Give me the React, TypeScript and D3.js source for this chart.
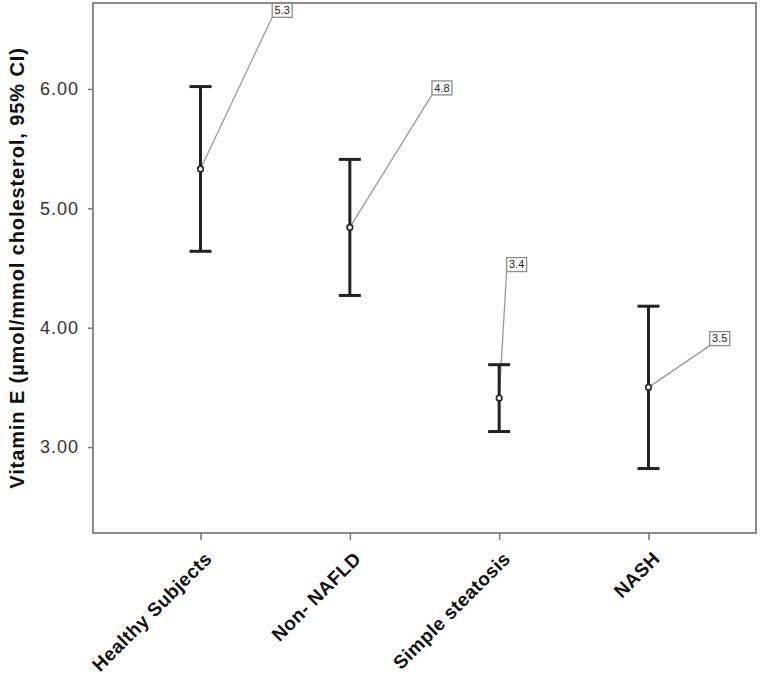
import React, { useEffect, useRef } from 'react';
import * as d3 from 'd3';

const groups = ['Healthy Subjects', 'Non- NAFLD', 'Simple steatosis', 'NASH'];
const means = [5.33, 4.84, 3.41, 3.5];
const lowerCI = [4.64, 4.27, 3.13, 2.82];
const upperCI = [6.02, 5.41, 3.69, 4.18];
const meanLabels = ['5.3', '4.8', '3.4', '3.5'];
// where each label box sits: value on y axis, shift along x in category steps
const labelValues = [6.6, 5.95, 4.47, 3.85];
const labelShift = [0.48, 0.55, 0.05, 0.41];
const yTicks = [3, 4, 5, 6];

const App = () => {
  const svgRef = useRef(null);

  useEffect(() => {
    const width = 760;
    const height = 676;
    const margin = { top: 3, right: 4, bottom: 143, left: 93 };
    const font = 'Liberation Sans, Arial, sans-serif';

    const svg = d3.select(svgRef.current);
    svg.selectAll('*').remove();
    svg.attr('width', width).attr('height', height);

    const x = d3.scalePoint()
      .domain(groups)
      .range([margin.left, width - margin.right])
      .padding(0.72);

    const y = d3.scaleLinear()
      .domain([2.28, 6.72])
      .range([height - margin.bottom, margin.top]);

    const step = x.step();

    // frame
    svg.append('rect')
      .attr('x', margin.left)
      .attr('y', margin.top)
      .attr('width', width - margin.left - margin.right)
      .attr('height', height - margin.top - margin.bottom)
      .attr('fill', 'none')
      .attr('stroke', '#8c8c8c')
      .attr('stroke-width', 2);

    // y axis
    const yAxis = svg.append('g')
      .attr('transform', `translate(${margin.left},0)`)
      .call(d3.axisLeft(y).tickValues(yTicks).tickFormat(d3.format('.2f')).tickSize(5).tickPadding(9));
    yAxis.select('.domain').remove();
    yAxis.selectAll('line').attr('stroke', '#777').attr('stroke-width', 1.5);
    yAxis.selectAll('text')
      .attr('font-family', font)
      .attr('font-size', 18)
      .attr('letter-spacing', 1)
      .attr('fill', '#333');

    // x axis
    const xAxis = svg.append('g')
      .attr('transform', `translate(0,${height - margin.bottom})`)
      .call(d3.axisBottom(x).tickSize(7).tickPadding(6));
    xAxis.select('.domain').remove();
    xAxis.selectAll('line').attr('stroke', '#777').attr('stroke-width', 1.5);
    xAxis.selectAll('text')
      .attr('font-family', font)
      .attr('font-size', 19)
      .attr('letter-spacing', 0.4)
      .attr('font-weight', 'bold')
      .attr('fill', '#111')
      .attr('text-anchor', 'end')
      .attr('dy', '0.35em')
      .attr('transform', 'translate(-2,13) rotate(-45)');

    // y title
    svg.append('text')
      .attr('transform', `translate(24,${(margin.top + height - margin.bottom) / 2}) rotate(-90)`)
      .attr('text-anchor', 'middle')
      .attr('font-family', font)
      .attr('font-size', 20)
      .attr('letter-spacing', 0.9)
      .attr('font-weight', 'bold')
      .attr('fill', '#111')
      .text('Vitamin E (µmol/mmol cholesterol, 95% CI)');

    const rows = groups.map((g, i) => ({
      g, mean: means[i], lo: lowerCI[i], hi: upperCI[i],
      label: meanLabels[i], ly: labelValues[i], lx: labelShift[i]
    }));

    // leader lines
    svg.append('g')
      .selectAll('line')
      .data(rows)
      .join('line')
      .attr('x1', d => x(d.g))
      .attr('y1', d => y(d.mean))
      .attr('x2', d => x(d.g) + d.lx * step)
      .attr('y2', d => y(d.ly))
      .attr('stroke', '#9a9a9a')
      .attr('stroke-width', 1.3);

    const capW = 11;
    const bars = svg.append('g')
      .attr('stroke', '#222')
      .attr('stroke-width', 3);

    bars.selectAll('.stem')
      .data(rows)
      .join('line')
      .attr('class', 'stem')
      .attr('x1', d => x(d.g))
      .attr('x2', d => x(d.g))
      .attr('y1', d => y(d.lo))
      .attr('y2', d => y(d.hi));

    bars.selectAll('.cap-hi')
      .data(rows)
      .join('line')
      .attr('class', 'cap-hi')
      .attr('x1', d => x(d.g) - capW)
      .attr('x2', d => x(d.g) + capW)
      .attr('y1', d => y(d.hi))
      .attr('y2', d => y(d.hi));

    bars.selectAll('.cap-lo')
      .data(rows)
      .join('line')
      .attr('class', 'cap-lo')
      .attr('x1', d => x(d.g) - capW)
      .attr('x2', d => x(d.g) + capW)
      .attr('y1', d => y(d.lo))
      .attr('y2', d => y(d.lo));

    // mean markers
    svg.append('g')
      .selectAll('circle')
      .data(rows)
      .join('circle')
      .attr('cx', d => x(d.g))
      .attr('cy', d => y(d.mean))
      .attr('r', 2.8)
      .attr('fill', '#fff')
      .attr('stroke', '#222')
      .attr('stroke-width', 1.6);

    // label boxes
    const boxW = 20;
    const boxH = 14;
    const lab = svg.append('g')
      .selectAll('g')
      .data(rows)
      .join('g')
      .attr('transform', d => `translate(${x(d.g) + d.lx * step},${y(d.ly) - boxH})`);

    lab.append('rect')
      .attr('width', boxW)
      .attr('height', boxH)
      .attr('fill', '#fff')
      .attr('stroke', '#8c8c8c')
      .attr('stroke-width', 1.3);

    lab.append('text')
      .attr('x', boxW / 2)
      .attr('y', boxH / 2)
      .attr('dy', '0.35em')
      .attr('text-anchor', 'middle')
      .attr('font-family', font)
      .attr('font-size', 11)
      .attr('fill', '#222')
      .text(d => d.label);
  }, []);

  return (
    <svg ref={svgRef} style={{ position: 'absolute', left: 0, top: 0, background: '#fff' }}></svg>
  );
};

export default App;
